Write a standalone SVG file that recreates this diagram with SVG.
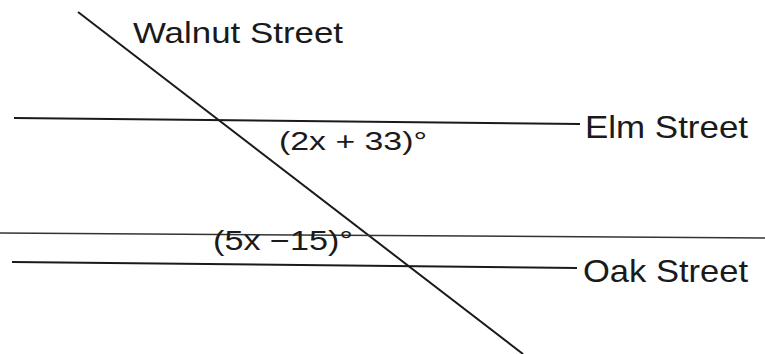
<svg xmlns="http://www.w3.org/2000/svg" width="765" height="354" viewBox="0 0 765 354">
<style>
.ln{stroke:#1a1a1a;stroke-width:2;fill:none}
.faint{stroke:#333;stroke-width:1.5;fill:none}
.lbl{font-family:"Liberation Sans",Arial,sans-serif;fill:#1a1a1a}
</style>
<rect width="765" height="354" fill="#ffffff"/>
<g id="connectors">
<line class="ln" x1="78" y1="12" x2="523" y2="354"/>
<line class="ln" x1="14" y1="118" x2="580" y2="124"/>
<line class="faint" x1="0" y1="233" x2="765" y2="238"/>
<line class="ln" x1="12" y1="262" x2="577" y2="268"/>
</g>
<g id="walnut"><text class="lbl" x="133" y="43" font-size="30" textLength="210" lengthAdjust="spacingAndGlyphs">Walnut Street</text></g>
<g id="elm"><text class="lbl" x="585" y="138" font-size="32" textLength="163" lengthAdjust="spacingAndGlyphs">Elm Street</text></g>
<g id="oak"><text class="lbl" x="583" y="282" font-size="32" textLength="165" lengthAdjust="spacingAndGlyphs">Oak Street</text></g>
<g id="angle1"><text class="lbl" x="279" y="150" font-size="25" textLength="148" lengthAdjust="spacingAndGlyphs">(2x + 33)°</text></g>
<g id="angle2"><text class="lbl" x="213" y="250" font-size="27" textLength="140" lengthAdjust="spacingAndGlyphs">(5x −15)°</text></g>
</svg>
